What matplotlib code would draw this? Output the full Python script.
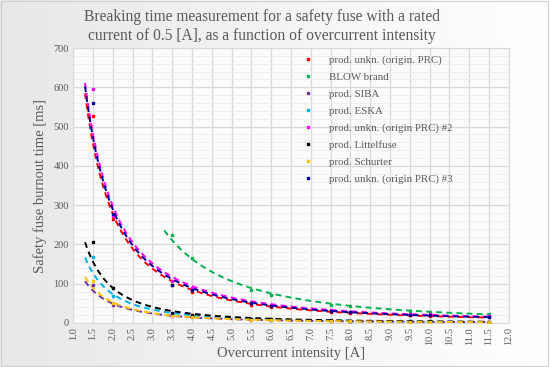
import numpy as np
import matplotlib
matplotlib.use("Agg")
import matplotlib.pyplot as plt

plt.rcParams['font.family'] = ['Liberation Serif', 'DejaVu Serif']

# measurement points (overcurrent [A])
x_main = [1.5, 2.0, 3.5, 4.0, 5.5, 6.0, 7.5, 8.0, 9.5, 10.0, 11.5]
x_blow = [3.5, 4.0, 5.5, 6.0, 7.5, 8.0, 9.5, 10.0, 11.5]

names = ["prod. unkn. (origin. PRC)", "BLOW brand", "prod. SIBA", "prod. ESKA",
         "prod. unkn. (origin PRC) #2", "prod. Littelfuse", "prod. Schurter",
         "prod. unkn. (origin PRC) #3"]
colors = ["#FF0000", "#00B050", "#7030A0", "#00B0F0",
          "#FF00FF", "#000000", "#FFC000", "#000099"]

t_prc1 = [527, 266, 96, 80, 46, 40, 29, 26, 20, 18, 14]
t_blow = [224, 165, 84, 72, 47, 44, 31, 29, 23]
t_siba = [96, 46, 17, 14, 8, 6.5, 4.5, 4, 3, 3, 2.5]
t_eska = [169, 68, 22, 17, 10, 8, 6, 5, 4, 4, 3]
t_prc2 = [597, 272, 106, 88, 52, 45, 32, 29, 23, 22, 18]
t_litt = [205, 90, 25, 20, 11, 9, 7, 6, 5, 4.5, 3.5]
t_schu = [106, 52, 17, 14, 8, 6.5, 4.5, 4, 3, 3, 2.5]
t_prc3 = [560, 278, 97, 85, 50, 42, 30, 27, 21, 20, 16]

series = [(x_main, t_prc1), (x_blow, t_blow), (x_main, t_siba), (x_main, t_eska),
          (x_main, t_prc2), (x_main, t_litt), (x_main, t_schu), (x_main, t_prc3)]

fig = plt.figure(figsize=(5.5, 3.67), dpi=100)
# light gray gradient background
bg = fig.add_axes([0, 0, 1, 1], zorder=-10)
grad = np.linspace(0.91, 1.0, 256).reshape(1, -1)
bg.imshow(np.dstack([grad, grad, grad]), aspect='auto', extent=[0, 1, 0, 1])
bg.set_axis_off()
bg.add_patch(plt.Rectangle((0.002, 0.003), 0.995, 0.993, fill=False,
                           edgecolor='#d0d0d0', lw=0.8, transform=bg.transAxes))

ax = fig.add_axes([0.133, 0.120, 0.792, 0.749])
ax.set_facecolor('#fbfbfb')

for (xs, ys), c, n in zip(series, colors, names):
    xs = np.array(xs)
    ys = np.array(ys)
    ax.plot(xs, ys, 's', ms=1.8, color=c, label=n, zorder=3)
    # power trendline as in spreadsheet (backward forecast 0.2)
    b, a = np.polyfit(np.log(xs), np.log(ys), 1)
    xf = np.linspace(xs[0] - 0.2, xs[-1], 150)
    ax.plot(xf, np.exp(a) * xf ** b, '--', color=c, lw=1.4, dashes=(3, 2.2), zorder=2)

ax.set_xlim(1.0, 12.0)
ax.set_ylim(0, 700)
ax.set_xticks(np.arange(1.0, 12.01, 0.5))
ax.set_xticklabels(["%.1f" % v for v in np.arange(1.0, 12.01, 0.5)], rotation=90)
ax.set_yticks(np.arange(0, 701, 100))
ax.set_yticks(np.arange(0, 701, 20), minor=True)
ax.grid(True, which='major', color='#d9d9d9', lw=0.9)
ax.grid(True, which='minor', axis='y', color='#ececec', lw=0.6)
ax.set_axisbelow(True)
ax.tick_params(which='both', length=0, labelsize=7.5, colors='#595959', pad=3)
for s in ax.spines.values():
    s.set_color('#d9d9d9')

ax.set_xlabel("Overcurrent intensity [A]", fontsize=10.5, color='#595959', labelpad=1)
ax.set_ylabel("Safety fuse burnout time [ms]", fontsize=10.5, color='#595959', labelpad=5)
fig.text(0.477, 0.975, "Breaking time measurement for a safety fuse with a rated\n"
         "current of 0.5 [A], as a function of overcurrent intensity",
         ha='center', va='top', fontsize=11.2, color='#595959', linespacing=1.2)

leg = ax.legend(loc='upper left', bbox_to_anchor=(0.51, 1.01), frameon=False,
                fontsize=7.8, handlelength=0.6, handletextpad=1.6, labelspacing=0.68,
                markerscale=1.0)
for t in leg.get_texts():
    t.set_color('#595959')

fig.savefig("out.png", dpi=100)
